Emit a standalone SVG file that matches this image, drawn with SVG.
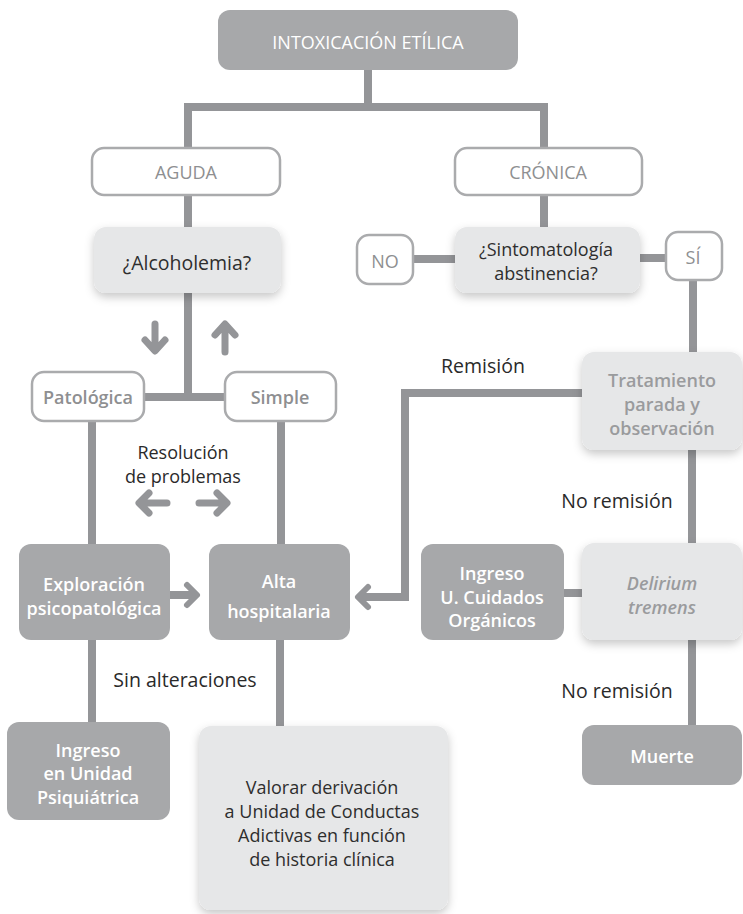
<svg xmlns="http://www.w3.org/2000/svg" width="743" height="914" viewBox="0 0 743 914">
<style>
.dark{fill:#a7a8aa}
.light{fill:#e6e7e8}
.white{fill:#ffffff;stroke:#aaabad;stroke-width:2.5}
.con{fill:none;stroke:#949598;stroke-width:8}
.ah{fill:none;stroke:#949598;stroke-width:6;stroke-linecap:round;stroke-linejoin:round}
text{font-family:"Open Sans","Liberation Sans",sans-serif;font-size:18px;text-anchor:middle;dominant-baseline:central}
.tw{fill:#ffffff;font-weight:600}
.tg{fill:#8e8f91}
.tgb{fill:#8e8f91;font-weight:600}
.tl{fill:#9a9b9d;font-weight:600}
.td{fill:#2e2e2e}
.lab{fill:#2a2a2a}
.big{font-size:19.5px}
</style>
<defs>
<filter id="sh" x="-20%" y="-20%" width="140%" height="150%">
<feDropShadow dx="0" dy="4" stdDeviation="5" flood-color="#000" flood-opacity="0.22"/>
</filter>
</defs>
<g id="connectors">
<path class="con" d="M368 70 V107 M188 148 V107 H544 V148"/>
<path class="con" d="M188 195 V227 M544 195 V227"/>
<path class="con" d="M413 259 H455 M640 258 H666"/>
<path class="con" d="M188 293 V397 M144 397 H225"/>
<path class="con" d="M693 280 V352 M692 450 V543 M692 640 V725"/>
<path class="con" d="M92 421 V544 M281 421 V544"/>
<path class="con" d="M92 640 V722 M280 640 V726"/>
<path class="con" d="M564 593 H582"/>
<path class="con" d="M582 393 H405 V597 H362"/>
<polyline class="ah" points="368,587 358,597 368,607"/>
<path class="con" d="M170 595 H193"/>
<polyline class="ah" points="187,585 197,595 187,605"/>
<path class="ah" style="stroke-width:7" d="M155 324 V350 M145 340 L155 351 L165 340"/>
<path class="ah" style="stroke-width:7" d="M225 352 V326 M215 335 L225 324 L235 335"/>
<path class="ah" style="stroke-width:7" d="M167 503 H140 M149 493 L139 503 L149 513"/>
<path class="ah" style="stroke-width:7" d="M199 503 H226 M217 493 L227 503 L217 513"/>
</g>
<g id="n-top"><rect class="dark" x="218" y="10" width="300" height="60" rx="12"/><text class="tw" style="font-weight:500" x="368" y="42">INTOXICACIÓN ETÍLICA</text></g>
<g id="n-aguda"><rect class="white" x="92" y="148" width="188" height="47" rx="12"/><text class="tg" x="186" y="172">AGUDA</text></g>
<g id="n-cronica"><rect class="white" x="455" y="148" width="187" height="47" rx="12"/><text class="tg" x="548" y="172">CRÓNICA</text></g>
<g id="n-alcoholemia"><rect class="light" filter="url(#sh)" x="94" y="227" width="187" height="66" rx="12"/><text class="td big" x="187" y="262">¿Alcoholemia?</text></g>
<g id="n-sinto"><rect class="light" filter="url(#sh)" x="455" y="227" width="185" height="66" rx="12"/><text class="td" x="546" y="249">¿Sintomatología</text><text class="td" x="546" y="273">abstinencia?</text></g>
<g id="n-no"><rect class="white" x="357" y="235" width="56" height="49" rx="12"/><text class="tg" x="385" y="261">NO</text></g>
<g id="n-si"><rect class="white" x="666" y="232" width="56" height="48" rx="12"/><text class="tg" x="693" y="257">SÍ</text></g>
<g id="n-patologica"><rect class="white" x="32" y="372" width="112" height="49" rx="12"/><text class="tgb" x="88" y="397">Patológica</text></g>
<g id="n-simple"><rect class="white" x="225" y="372" width="111" height="49" rx="12"/><text class="tgb" x="280" y="397">Simple</text></g>
<g id="n-tratamiento"><rect class="light" filter="url(#sh)" x="582" y="352" width="160" height="98" rx="12"/><text class="tl" x="662" y="380">Tratamiento</text><text class="tl" x="662" y="404">parada y</text><text class="tl" x="662" y="428">observación</text></g>
<g id="n-exploracion"><rect class="dark" x="19" y="544" width="151" height="96" rx="12"/><text class="tw" x="94" y="584">Exploración</text><text class="tw" x="94" y="608">psicopatológica</text></g>
<g id="n-alta"><rect class="dark" x="209" y="544" width="141" height="96" rx="12"/><text class="tw" x="279" y="581">Alta</text><text class="tw" x="279" y="611">hospitalaria</text></g>
<g id="n-ingresouco"><rect class="dark" x="421" y="544" width="143" height="96" rx="12"/><text class="tw" x="492" y="573">Ingreso</text><text class="tw" x="492" y="597">U. Cuidados</text><text class="tw" x="492" y="620">Orgánicos</text></g>
<g id="n-delirium"><rect class="light" filter="url(#sh)" x="582" y="543" width="160" height="97" rx="12"/><text class="tl" style="font-style:italic" x="662" y="583">Delirium</text><text class="tl" style="font-style:italic" x="662" y="607">tremens</text></g>
<g id="n-ingresopsiq"><rect class="dark" x="7" y="722" width="163" height="98" rx="12"/><text class="tw" x="88" y="750">Ingreso</text><text class="tw" x="88" y="773">en Unidad</text><text class="tw" x="88" y="797">Psiquiátrica</text></g>
<g id="n-valorar"><rect class="light" filter="url(#sh)" x="199" y="726" width="249" height="184" rx="12"/><text class="td" x="322" y="787">Valorar derivación</text><text class="td" x="322" y="811">a Unidad de Conductas</text><text class="td" x="322" y="835">Adictivas en función</text><text class="td" x="322" y="859">de historia clínica</text></g>
<g id="n-muerte"><rect class="dark" x="582" y="725" width="160" height="60" rx="12"/><text class="tw" x="662" y="756">Muerte</text></g>
<g id="labels">
<text class="lab" x="183" y="452">Resolución</text>
<text class="lab" x="183" y="476">de problemas</text>
<text class="lab big" x="483" y="365">Remisión</text>
<text class="lab big" x="617" y="500">No remisión</text>
<text class="lab big" x="185" y="679">Sin alteraciones</text>
<text class="lab big" x="617" y="690">No remisión</text>
</g>
</svg>
